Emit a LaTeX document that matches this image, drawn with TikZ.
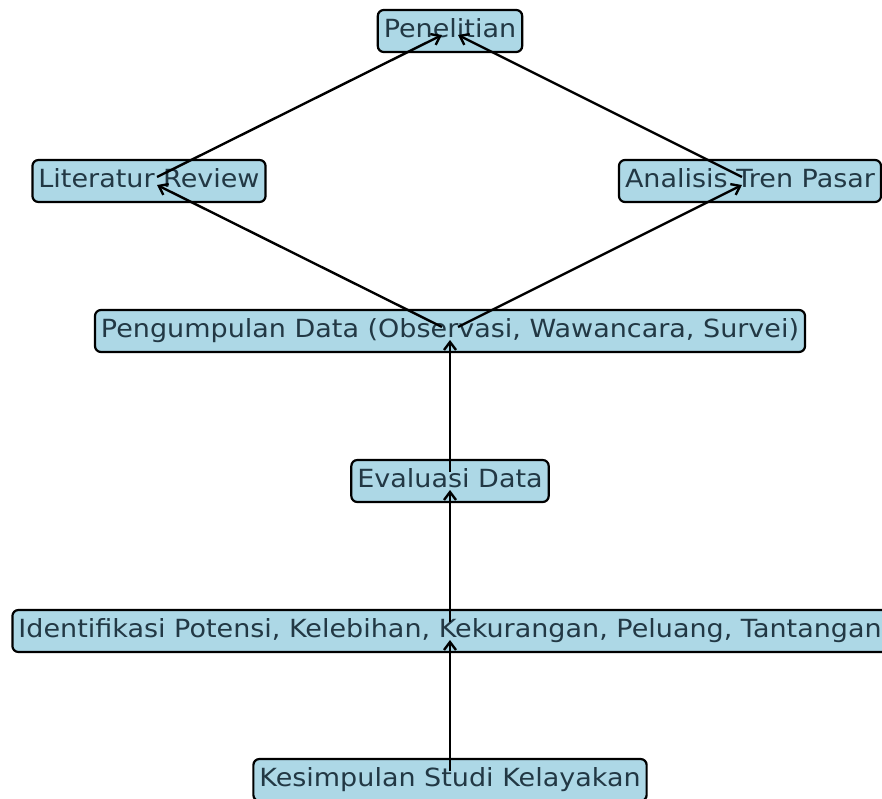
\documentclass[tikz,border=0pt]{standalone}
\usepackage{fontspec}
\newfontfamily\lblfont[FakeStretch=1.08]{DejaVu Sans}
\usetikzlibrary{arrows.meta,calc}
\definecolor{boxfill}{HTML}{ADD8E6}
\definecolor{txtcol}{HTML}{223844}
\begin{document}
\begin{tikzpicture}[x=1pt,y=-1pt,
  box/.style={draw=black, line width=2.2pt, fill=boxfill, rounded corners=6pt,
    inner xsep=6pt, inner ysep=0pt, minimum height=42pt,
    text=txtcol, font=\lblfont\fontsize{25}{29}\selectfont,
    text height=18.5pt, text depth=5pt},
  edge/.style={draw=black, line width=2.4pt, -{Straight Barb[length=8pt,width=12pt,line width=2.4pt]}}
]
\clip (0,0) rectangle (882,798);
\fill[white] (0,0) rectangle (882,798);
\node[box] (pen) at (450,31) {Penelitian};
\node[box] (lit) at (149,181) {Literatur Review};
\node[box] (ana) at (750,181) {Analisis Tren Pasar};
\node[box] (pd) at (450,331) {Pengumpulan Data (Observasi, Wawancara, Survei)};
\node[box] (ev) at (450,481) {Evaluasi Data};
\node[box] (id) at (450,631) {Identifikasi Potensi, Kelebihan, Kekurangan, Peluang, Tantangan};
\node[box] (kes) at (450,780) {Kesimpulan Studi Kelayakan};
\foreach \s/\t in {kes/id, id/ev, ev/pd, pd/lit, pd/ana, lit/pen, ana/pen}{
  \draw[edge] ($(\s)!9pt!(\t)$) -- ($(\t)!9pt!(\s)$);
}
\end{tikzpicture}
\end{document}
